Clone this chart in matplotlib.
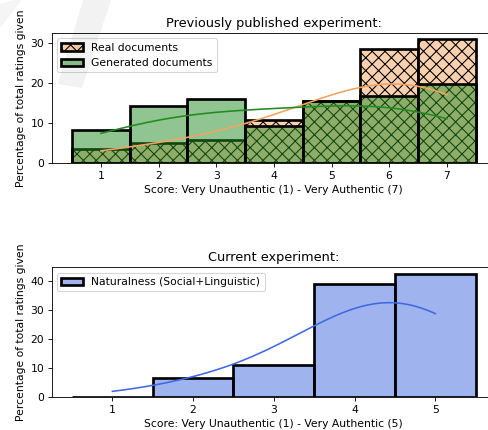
import numpy as np
import matplotlib
matplotlib.use("Agg")
import matplotlib.pyplot as plt
from matplotlib.patches import Polygon
import seaborn as sns

# dados (percentual de notas por pontuação)
scores_7 = [1, 2, 3, 4, 5, 6, 7]
real_pct = [3.6, 5.1, 5.7, 10.7, 15.5, 28.3, 30.8]
generated_pct = [8.2, 14.2, 16.1, 9.3, 15.6, 16.8, 19.8]

scores_5 = [1, 2, 3, 4, 5]
naturalness_pct = [0.0, 6.7, 11.3, 39.2, 42.7]

DPI = 77
W, H = 489, 430
fig = plt.figure(figsize=(W / DPI, H / DPI), dpi=DPI)
ax1 = fig.add_axes([0.106, 0.620, 0.908, 0.303])
ax2 = fig.add_axes([0.106, 0.076, 0.908, 0.302])

# experimento anterior
sns.histplot(x=scores_7, weights=real_pct, discrete=True, kde=True,
             color='sandybrown', alpha=0.5,
             hatch='xx', edgecolor='black', linewidth=2.5,
             label='Real documents', ax=ax1)
sns.histplot(x=scores_7, weights=generated_pct, discrete=True, kde=True,
             color='forestgreen', alpha=0.5,
             edgecolor='black', linewidth=2.5,
             label='Generated documents', ax=ax1)
ax1.set_title('Previously published experiment:')
ax1.set_xlabel('Score: Very Unauthentic (1) - Very Authentic (7)')
ax1.set_ylabel('Percentage of total ratings given')
ax1.set_xticks(scores_7)
ax1.legend(loc='upper left')

# experimento atual
sns.histplot(x=scores_5, weights=naturalness_pct, discrete=True, kde=True,
             color='royalblue', alpha=0.5,
             edgecolor='black', linewidth=2.5,
             label='Naturalness (Social+Linguistic)', ax=ax2)
ax2.set_title('Current experiment:')
ax2.set_xlabel('Score: Very Unauthentic (1) - Very Authentic (5)')
ax2.set_ylabel('Percentage of total ratings given')
ax2.set_xticks(scores_5)
ax2.legend(loc='upper left')

# marca d'água cinza clara no canto superior esquerdo
def px(pts):
    return [(x / W, 1 - y / H) for x, y in pts]

fig.patches.append(Polygon(px([(83, 0), (111, 0), (82, 88), (58, 84)]),
                           closed=True, transform=fig.transFigure, zorder=5,
                           facecolor='black', alpha=0.05, edgecolor='none'))
fig.patches.append(Polygon(px([(0, 4), (14, 0), (22, 0), (0, 28)]),
                           closed=True, transform=fig.transFigure, zorder=5,
                           facecolor='black', alpha=0.04, edgecolor='none'))

fig.savefig('out.png', dpi=DPI)
